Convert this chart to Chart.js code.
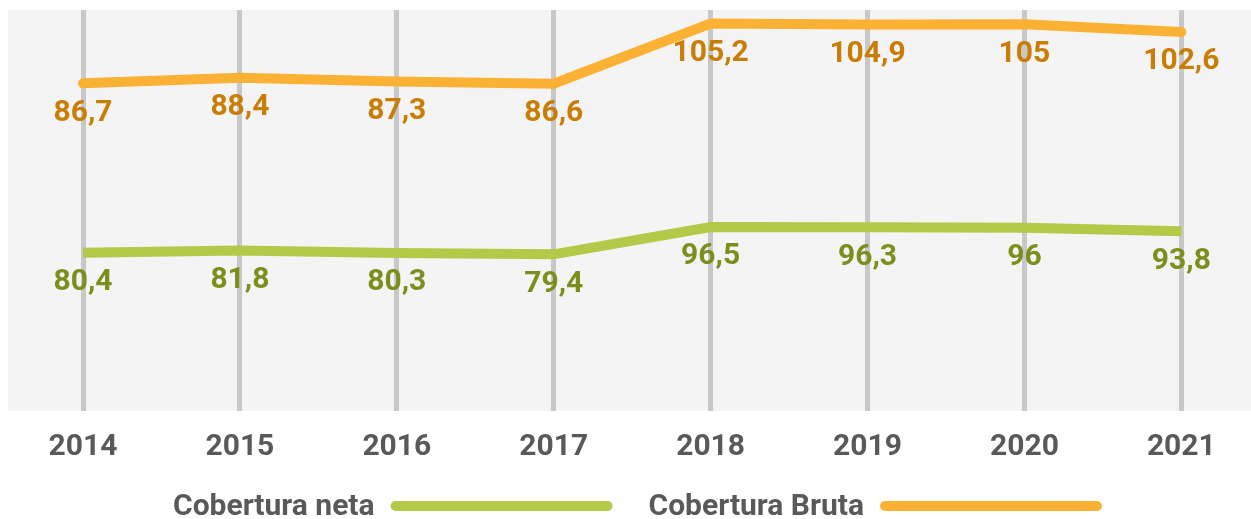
<!DOCTYPE html>
<html>
<head>
<meta charset="utf-8">
<script src="https://cdn.jsdelivr.net/npm/chart.js@4.4.1/dist/chart.umd.min.js"></script>
<style>
  html, body { margin: 0; padding: 0; background: #ffffff; overflow: hidden; }
  #wrap { width: 1251px; height: 519px; position: relative; }
</style>
</head>
<body>
<div id="wrap"><canvas id="chart" width="1251" height="519"></canvas></div>
<script>
const years = ['2014', '2015', '2016', '2017', '2018', '2019', '2020', '2021'];
const netaValues = [80.4, 81.8, 80.3, 79.4, 96.5, 96.3, 96, 93.8];
const brutaValues = [86.7, 88.4, 87.3, 86.6, 105.2, 104.9, 105, 102.6];
const seriesLabels = ['Cobertura neta', 'Cobertura Bruta'];

const lineColors = ['#b3c948', '#fbb234'];
const labelColors = ['#7b8f1c', '#c97d05'];
const FONT = 'Roboto, "Liberation Sans", sans-serif';

const fmt = v => String(v).replace('.', ',');

// plot background
const bgPlugin = {
    id: 'bg',
    beforeDraw(chart) {
        const { ctx, chartArea: a } = chart;
        ctx.save();
        ctx.fillStyle = '#f4f4f4';
        ctx.fillRect(a.left, a.top, a.right - a.left, a.bottom - a.top);
        ctx.restore();
    }
};

// value labels under each point
const valueLabels = {
    id: 'valueLabels',
    afterDatasetsDraw(chart) {
        const ctx = chart.ctx;
        ctx.save();
        ctx.font = 'bold 30px ' + FONT;
        ctx.textAlign = 'center';
        ctx.textBaseline = 'middle';
        chart.data.datasets.forEach((ds, i) => {
            const meta = chart.getDatasetMeta(i);
            ctx.fillStyle = labelColors[i];
            meta.data.forEach((pt, j) => {
                ctx.fillText(fmt(ds.data[j].y), pt.x, pt.y + 30);
            });
        });
        ctx.restore();
    }
};

// legend: text first, then a line sample
const lineLegend = {
    id: 'lineLegend',
    afterDraw(chart) {
        const ctx = chart.ctx;
        const y = 507, sample = 222, gapText = 16, gapItem = 36;
        ctx.save();
        ctx.font = 'bold 30px ' + FONT;
        ctx.textBaseline = 'middle';
        const widths = seriesLabels.map(t => ctx.measureText(t).width);
        let total = 0;
        widths.forEach((w, i) => { total += w + gapText + sample + (i < widths.length - 1 ? gapItem : 0); });
        let x = chart.width / 2 - total / 2 + 12;
        seriesLabels.forEach((t, i) => {
            ctx.fillStyle = '#595959';
            ctx.textAlign = 'left';
            ctx.fillText(t, x, y);
            x += widths[i] + gapText;
            ctx.strokeStyle = lineColors[i];
            ctx.lineWidth = 10;
            ctx.lineCap = 'round';
            ctx.beginPath();
            ctx.moveTo(x + 5, y - 1);
            ctx.lineTo(x + sample - 5, y - 1);
            ctx.stroke();
            x += sample + gapItem;
        });
        ctx.restore();
    }
};

new Chart(document.getElementById('chart'), {
    type: 'line',
    data: {
        datasets: [
            {
                label: seriesLabels[0],
                data: netaValues.map((v, i) => ({ x: i, y: v })),
                borderColor: lineColors[0],
                borderWidth: 10,
                borderCapStyle: 'butt',
                pointRadius: 0,
                tension: 0,
                yAxisID: 'y'
            },
            {
                label: seriesLabels[1],
                data: brutaValues.map((v, i) => ({ x: i, y: v })),
                borderColor: lineColors[1],
                borderWidth: 10,
                borderCapStyle: 'round',
                pointRadius: 0,
                tension: 0,
                yAxisID: 'y1'
            }
        ]
    },
    options: {
        responsive: false,
        animation: false,
        layout: { padding: { left: 8, top: 10, right: 0, bottom: 0 } },
        plugins: { legend: { display: false }, tooltip: { enabled: false } },
        scales: {
            x: {
                type: 'linear',
                min: -0.478,
                max: 7.444,
                afterBuildTicks: s => { s.ticks = years.map((_, i) => ({ value: i })); },
                afterFit: s => { s.height = 108; },
                border: { display: false },
                grid: { color: '#c8c8c8', lineWidth: 5, drawTicks: false },
                ticks: {
                    callback: v => years[v],
                    color: '#595959',
                    font: { family: FONT, size: 30, weight: 'bold' },
                    padding: 18,
                    maxRotation: 0,
                    autoSkip: false
                }
            },
            y: { display: false, min: -18.5, max: 232.1 },
            y1: { display: false, min: -14.7, max: 109.4 }
        }
    },
    plugins: [bgPlugin, valueLabels, lineLegend]
});
</script>
</body>
</html>
